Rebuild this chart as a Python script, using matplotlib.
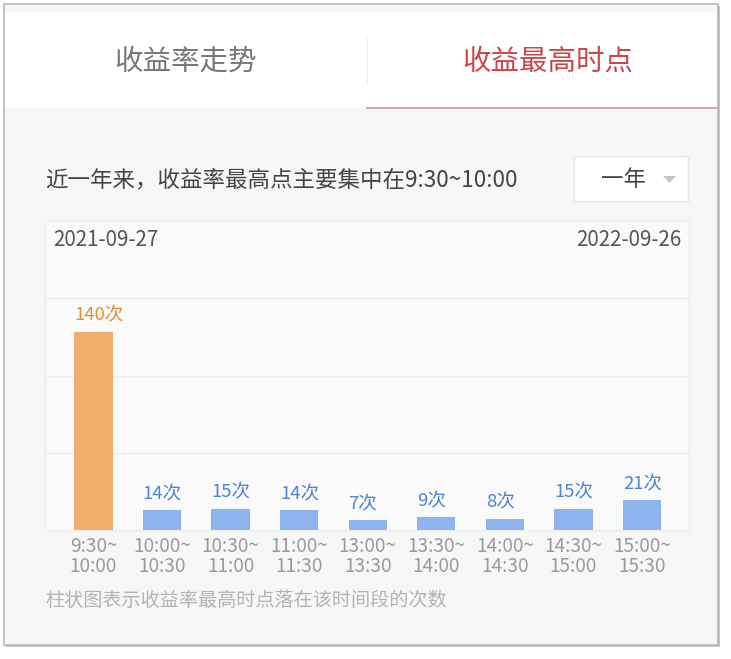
import matplotlib
matplotlib.use('Agg')
import matplotlib.pyplot as plt
from matplotlib.patches import Rectangle, Polygon

plt.rcParams['font.family'] = ['Noto Sans CJK SC', 'DejaVu Sans']

# data
slots = ['9:30~\n10:00', '10:00~\n10:30', '10:30~\n11:00', '11:00~\n11:30',
         '13:00~\n13:30', '13:30~\n14:00', '14:00~\n14:30', '14:30~\n15:00',
         '15:00~\n15:30']
counts = [140, 14, 15, 14, 7, 9, 8, 15, 21]
tab_names = ['收益率走势', '收益最高时点']
start_date = '2021-09-27'
end_date = '2022-09-26'
summary = '近一年来，收益率最高点主要集中在9:30~10:00'
period = '一年'
footnote = '柱状图表示收益率最高时点落在该时间段的次数'

W, H = 731, 659
fig = plt.figure(figsize=(W / 100, H / 100), dpi=100)
fig.patch.set_facecolor('white')

# background / card layer in pixel coords
bg = fig.add_axes([0, 0, 1, 1])
bg.set_xlim(0, W)
bg.set_ylim(H, 0)
bg.axis('off')

def px(v):
    # pixel size -> points at dpi 100
    return v * 0.72

# shadow + card
bg.add_patch(Rectangle((6, 6), 714, 641, facecolor='#c4c4c4', edgecolor='none'))
bg.add_patch(Rectangle((4, 4), 714, 641, facecolor='#f7f7f7',
                       edgecolor='#b8b8b8', lw=1.2))
# tabs area
bg.add_patch(Rectangle((5, 12), 712, 96, facecolor='white', edgecolor='none'))
bg.plot([367, 367], [38, 83], color='#eeeeee', lw=1)
bg.plot([367, 717], [108, 108], color='#d8a9ad', lw=1.5)
bg.text(185, 62, tab_names[0], fontsize=px(28.5), color='#777777',
        ha='center', va='center')
bg.text(548, 62, tab_names[1], fontsize=px(28.5), color='#c9474b',
        ha='center', va='center')

# summary line
bg.text(45, 180, summary, fontsize=px(22.5), color='#444444',
        ha='left', va='center')

# period dropdown
bg.add_patch(Rectangle((574, 156), 114, 45, facecolor='white',
                       edgecolor='#e6e6e6', lw=1))
bg.text(624, 179, period, fontsize=px(22.5), color='#444444',
        ha='center', va='center')
bg.add_patch(Polygon([(663, 176), (676, 176), (669.5, 183)],
                     closed=True, facecolor='#c6c6c6', edgecolor='none'))

# chart box
bg.add_patch(Rectangle((45, 221), 644, 309, facecolor='#fafafa',
                       edgecolor='#eeeeee', lw=1))
bg.text(53, 240, start_date, fontsize=px(20.5), color='#555555',
        ha='left', va='center')
bg.text(681, 240, end_date, fontsize=px(20.5), color='#555555',
        ha='right', va='center')

bg.text(45, 601, footnote, fontsize=px(19.2), color='#b3b3b3',
        ha='left', va='center')

# bar chart
ax = fig.add_axes([45 / W, (H - 530) / H, 644 / W, 309 / H])
ax.patch.set_alpha(0)
ymax = 218
xs = list(range(len(counts)))
colors = ['#f0ad6c'] + ['#8db4ef'] * (len(counts) - 1)
text_colors = ['#e08f3a'] + ['#4f84cf'] * (len(counts) - 1)
width = 0.56
ax.bar(xs, counts, width=width, color=colors, zorder=2)
for x, c, tc in zip(xs, counts, text_colors):
    ax.annotate(f'{c}次', (x - width / 2, c), xytext=(0, 5),
                textcoords='offset points', ha='left', va='bottom',
                fontsize=px(18.5), color=tc)

ax.set_xlim(-0.707, 8.686)
ax.set_ylim(0, ymax)
for g in [ymax / 4, ymax / 2, ymax * 3 / 4]:
    ax.axhline(g, color='#ececec', lw=1, zorder=1)
ax.set_yticks([])
ax.set_xticks(xs)
ax.set_xticklabels(slots, fontsize=px(19), color='#9a9a9a', linespacing=0.95)
ax.tick_params(axis='x', length=0, pad=4)
for s in ax.spines.values():
    s.set_visible(False)

fig.savefig('out.png', dpi=100)
